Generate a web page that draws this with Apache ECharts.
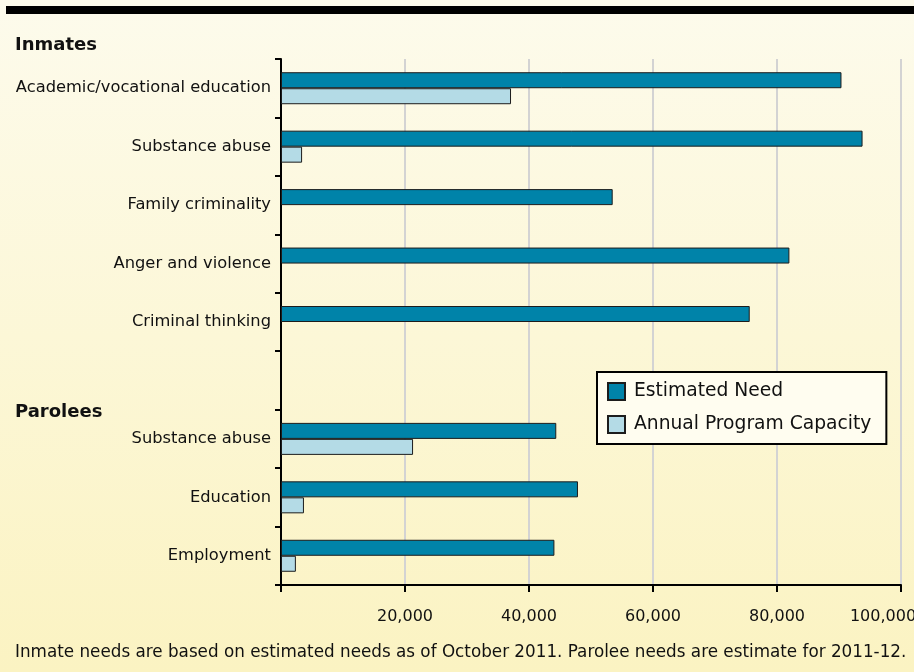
<!DOCTYPE html>
<html>
<head>
<meta charset="utf-8">
<title>Inmate and parolee program needs</title>
<script src="https://cdn.jsdelivr.net/npm/echarts@6/dist/echarts.min.js"></script>
<style>
  html, body { margin: 0; padding: 0; }
  #main { width: 914px; height: 672px; }
</style>
</head>
<body>
<div id="main"></div>
<script>
// rows top to bottom, the blank one separates inmates from parolees
var categories = [
  'Academic/vocational education',
  'Substance abuse',
  'Family criminality',
  'Anger and violence',
  'Criminal thinking',
  '',
  'Substance abuse',
  'Education',
  'Employment'
]
var estimatedNeed = [90400, 93800, 53500, 82000, 75600, '-', 44400, 47900, 44100]
var programCapacity = [37100, 3400, '-', '-', '-', '-', 21300, 3700, 2400]
var seriesNames = ['Estimated Need', 'Annual Program Capacity']
var footnote = 'Inmate needs are based on estimated needs as of October 2011. Parolee needs are estimate for 2011-12.'

var font = 'DejaVu Sans'
var chart = echarts.init(document.getElementById('main'))

chart.setOption({
  animation: false,
  backgroundColor: new echarts.graphic.LinearGradient(0, 0, 0, 1, [
    { offset: 0, color: '#fdfbec' },
    { offset: 1, color: '#fbf3c2' }
  ]),
  textStyle: { fontFamily: font },
  grid: { left: 281, right: 13, top: 59, bottom: 87, outerBoundsMode: 'none', containLabel: false },
  legend: {
    data: seriesNames,
    orient: 'vertical',
    left: 597,
    top: 372,
    padding: [10, 15, 10, 10],
    itemGap: 14,
    itemWidth: 17,
    itemHeight: 17,
    icon: 'rect',
    backgroundColor: '#fffdf0',
    borderColor: '#000',
    borderWidth: 2,
    textStyle: { fontSize: 18.7, color: '#111', fontFamily: font, padding: [0, 0, 0, 4] }
  },
  xAxis: {
    type: 'value',
    min: 0,
    max: 100000,
    interval: 20000,
    axisLine: { show: true, lineStyle: { color: '#000', width: 2 } },
    axisTick: { show: true, length: 7, lineStyle: { color: '#000', width: 2 } },
    splitLine: { show: true, lineStyle: { color: '#d3d3d3', width: 2 } },
    axisLabel: {
      margin: 24,
      fontSize: 16,
      color: '#111',
      formatter: function (v) {
        if (v === 0) return ''
        if (v === 100000) return '{last|100,000}'
        return v.toLocaleString('en-US')
      },
      rich: { last: { fontSize: 16, color: '#111', fontFamily: font, padding: [0, 36, 0, 0] } }
    }
  },
  yAxis: {
    type: 'category',
    inverse: true,
    data: categories,
    axisLine: { lineStyle: { color: '#000', width: 2 } },
    axisTick: { show: true, length: 6, lineStyle: { color: '#000', width: 2 } },
    axisLabel: { margin: 10, fontSize: 16.3, color: '#111' }
  },
  series: [
    {
      name: seriesNames[0],
      type: 'bar',
      data: estimatedNeed,
      barWidth: 16,
      barGap: '0%',
      itemStyle: { color: '#0083a9', borderColor: '#1c1c1c', borderWidth: 1 }
    },
    {
      name: seriesNames[1],
      type: 'bar',
      data: programCapacity,
      barWidth: 16,
      itemStyle: { color: '#b4dbe6', borderColor: '#1c1c1c', borderWidth: 1 }
    }
  ],
  graphic: [
    { type: 'rect', left: 6, top: 6, shape: { width: 908, height: 8 }, style: { fill: '#000' } },
    { type: 'text', left: 15, top: 36, style: { text: 'Inmates', font: 'bold 18px "DejaVu Sans"', fill: '#111' } },
    { type: 'text', left: 15, top: 403, style: { text: 'Parolees', font: 'bold 18px "DejaVu Sans"', fill: '#111' } },
    { type: 'text', left: 15, top: 644, style: { text: footnote, font: '16.8px "DejaVu Sans"', fill: '#111' } }
  ]
})
</script>
</body>
</html>
